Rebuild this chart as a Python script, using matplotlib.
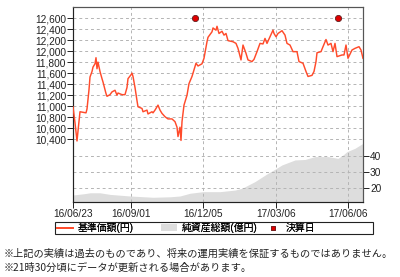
import matplotlib
matplotlib.use("Agg")
import matplotlib.pyplot as plt
from matplotlib.lines import Line2D
from matplotlib.patches import Patch, Rectangle

plt.rcParams['font.family'] = ['Liberation Sans', 'Noto Sans CJK JP']

# ==========================================
# データ (営業日インデックス)
# ==========================================
nav_day = [0, 2, 4, 5, 7, 10, 13, 14, 16, 17,
           19, 20, 22, 23, 24, 25, 27, 29, 30, 33,
           34, 37, 39, 42, 44, 45, 49, 52, 54, 55,
           58, 59, 60, 62, 64, 65, 69, 70, 74, 75,
           79, 80, 82, 85, 87, 89, 92, 95, 99, 102,
           104, 105, 107, 108, 109, 111, 114, 116, 119, 121,
           123, 125, 127, 129, 131, 134, 135, 139, 140, 143,
           144, 146, 149, 151, 153, 155, 160, 163, 165, 168,
           170, 173, 175, 179, 181, 184, 187, 190, 192, 194,
           197, 200, 201, 203, 205, 209, 212, 214, 217, 220,
           224, 226, 230, 233, 235, 239, 241, 243, 244, 248,
           250, 253, 255, 258, 260, 262, 264, 269, 271, 273,
           275, 279, 282, 286, 288, 290]
nav = [10990, 10700, 10370, 10550, 10900, 10890, 10880, 10950, 11300, 11530,
       11630, 11710, 11770, 11880, 11680, 11800, 11630, 11500, 11440, 11230,
       11180, 11210, 11260, 11290, 11200, 11240, 11210, 11210, 11340, 11500,
       11570, 11600, 11540, 11340, 11100, 10990, 10960, 10900, 10930, 10860,
       10900, 10880, 10930, 11020, 10930, 10870, 10810, 10770, 10770, 10720,
       10620, 10450, 10620, 10380, 10720, 11020, 11200, 11410, 11540, 11660,
       11780, 11730, 11750, 11770, 11870, 12170, 12250, 12350, 12420, 12380,
       12450, 12320, 12360, 12290, 12320, 12190, 12170, 12140, 12050, 11840,
       12110, 11960, 11840, 11810, 11850, 11990, 12140, 12130, 12230, 12140,
       12260, 12380, 12320, 12260, 12320, 12370, 12290, 12140, 12110, 11990,
       11990, 11810, 11780, 11630, 11540, 11560, 11630, 11810, 11970, 11990,
       12080, 12210, 12110, 12140, 11990, 12140, 11900, 11930, 11930, 12110,
       11870, 12020, 12050, 12080, 12020, 11870]

asset_day = [0, 12, 17, 27, 37, 57, 80, 97, 107, 117, 130, 147, 162, 169, 182,
             195, 202, 209, 222, 232, 242, 255, 265, 270, 274, 282, 290]
asset = [15.6, 16.5, 17.0, 17.0, 16.0, 15.0, 14.2, 14.5, 15.0, 16.7, 17.7, 17.7,
         18.7, 19.8, 24.0, 29.2, 31.7, 34.4, 37.5, 37.8, 39.6, 39.6, 38.5, 40.6,
         42.7, 44.8, 47.9]

settle_day = [122, 265]
settle_level = [12600, 12600]

tick_day = [0, 58, 130, 203, 275]
tick_label = ['16/06/23', '16/09/01', '16/12/05', '17/03/06', '17/06/06']

LINE_COLOR = '#ff4b2b'
AREA_COLOR = '#dddddd'
GRID = dict(color='#b4b4b4', linestyle=(0, (3, 3)), linewidth=0.7)

fig = plt.figure(figsize=(4.0, 2.77), dpi=100)
ax = fig.add_axes([73 / 400, 1 - 202 / 277, 290 / 400, 195 / 277])
ax2 = ax.twinx()

# 純資産総額 (右軸, 背面)
ax2.fill_between(asset_day, 0, asset, color=AREA_COLOR, linewidth=0)
ax2.set_ylim(11.25, 133)
ax2.set_yticks([20, 30, 40])
ax2.set_yticklabels(['20', '30', '40'])
for y in [20, 30, 40]:
    ax2.axhline(y, **GRID, zorder=1)

ax.set_zorder(ax2.get_zorder() + 1)
ax.patch.set_visible(False)

left_ticks = list(range(10400, 12601, 200))
for y in left_ticks:
    ax.axhline(y, **GRID, zorder=1)
for d in tick_day[1:]:
    ax.axvline(d, **GRID, zorder=1)

ax.plot(nav_day, nav, color=LINE_COLOR, linewidth=1.05, zorder=3)
ax.scatter(settle_day, settle_level, s=20, color='#e00000', edgecolors='#602020',
           linewidths=0.6, zorder=4)

ax.set_xlim(0, 290)
ax.set_ylim(9263, 12800)
ax.set_yticks(left_ticks)
ax.set_yticklabels([f'{v:,}' for v in left_ticks])
ax.set_xticks(tick_day)
ax.set_xticklabels(tick_label)

for a in (ax, ax2):
    a.tick_params(labelsize=7.3, length=4, width=0.7, pad=1, colors='#222222')
    for s in a.spines.values():
        s.set_color('#555555')
        s.set_linewidth(0.8)
ax.spines['left'].set_color('#222222')
ax.spines['bottom'].set_color('#222222')

# 凡例: 枠 + 3項目
fig.patches.append(Rectangle((55 / 400, 1 - 234 / 277), 318 / 400, 12 / 277,
                             transform=fig.transFigure, fill=False,
                             edgecolor='#222222', linewidth=0.8))
handles = [Line2D([], [], color=LINE_COLOR, linewidth=1.3),
           Patch(facecolor=AREA_COLOR, edgecolor='none'),
           Line2D([], [], color='#e00000', marker='s', markersize=3.5,
                  markeredgecolor='#602020', markeredgewidth=0.5, linestyle='none')]
labels = ['基準価額(円)', '純資産総額(億円)', '決算日']
leg_x = [57, 161, 265]
for h, lab, lx in zip(handles, labels, leg_x):
    lg = fig.legend([h], [lab], loc='center left',
                    bbox_to_anchor=(lx / 400, 1 - 228 / 277),
                    fontsize=7.1, frameon=False, borderpad=0, borderaxespad=0,
                    handlelength=1.6, handletextpad=0.5)
    fig.add_artist(lg)

fig.text(4 / 400, 1 - 254 / 277, '※上記の実績は過去のものであり、将来の運用実績を保証するものではありません。',
         fontsize=7.35, va='center', ha='left', color='#222222',
         family=['Noto Sans CJK JP'])
fig.text(4 / 400, 1 - 268 / 277, '※21時30分頃にデータが更新される場合があります。',
         fontsize=7.35, va='center', ha='left', color='#222222',
         family=['Noto Sans CJK JP'])

fig.savefig('out.png', dpi=100)
